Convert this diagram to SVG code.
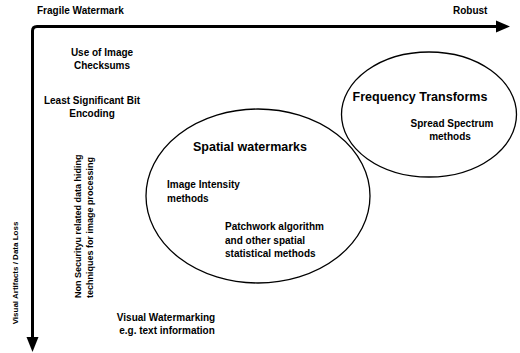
<svg xmlns="http://www.w3.org/2000/svg" width="520" height="353" viewBox="0 0 520 353">
<style>
text{font-family:"Liberation Sans",Arial,sans-serif;font-weight:bold;fill:#000}
.s{font-size:10px}
.r{font-size:9px}
.t{font-size:12.5px}
.v{font-size:8px}
.m{text-anchor:middle}
.axis{fill:none;stroke:#000;stroke-width:3}
.ell{fill:none;stroke:#000;stroke-width:1.3}
</style>
<rect width="520" height="353" fill="#fff"/>
<g id="connectors">
<path class="axis" d="M32.5,338 V31 Q32.5,26.5 37,26.5 H497"/>
<path d="M496,20.5 L510,26.5 L496,32.5 Z" fill="#000"/>
<path d="M26.5,337 L32.5,352 L38.5,337 Z" fill="#000"/>
</g>
<g id="axis-labels">
<text class="s" x="37" y="14">Fragile Watermark</text>
<text class="s" x="453" y="14">Robust</text>
<text class="v m" transform="translate(17.5,273) rotate(-90)">Visual Artifacts / Data Loss</text>
</g>
<g id="checksums">
<text class="s m" x="102" y="56">Use of Image</text>
<text class="s m" x="102" y="69">Checksums</text>
</g>
<g id="lsb">
<text class="s m" x="92" y="104">Least Significant Bit</text>
<text class="s m" x="92" y="117">Encoding</text>
</g>
<g id="nonsecurity">
<text class="r" transform="translate(81,298) rotate(-90)">Non Securityu related data hiding</text>
<text class="r" transform="translate(92.5,298) rotate(-90)">techniques for image processing</text>
</g>
<g id="visual-watermarking">
<text class="s m" x="166" y="321">Visual Watermarking</text>
<text class="s m" x="167" y="334">e.g. text information</text>
</g>
<g id="frequency">
<ellipse class="ell" cx="429" cy="114.5" rx="87.5" ry="62.5"/>
<text class="t m" x="420" y="101">Frequency Transforms</text>
<text class="s m" x="452" y="127">Spread Spectrum</text>
<text class="s m" x="450" y="140">methods</text>
</g>
<g id="spatial">
<ellipse class="ell" cx="258" cy="196" rx="112" ry="87"/>
<text class="t m" x="250" y="151">Spatial watermarks</text>
<text class="s" x="167" y="188">Image Intensity</text>
<text class="s" x="167" y="202">methods</text>
<text class="s" x="225" y="230">Patchwork algorithm</text>
<text class="s" x="225" y="244">and other spatial</text>
<text class="s" x="225" y="257">statistical methods</text>
</g>
</svg>
